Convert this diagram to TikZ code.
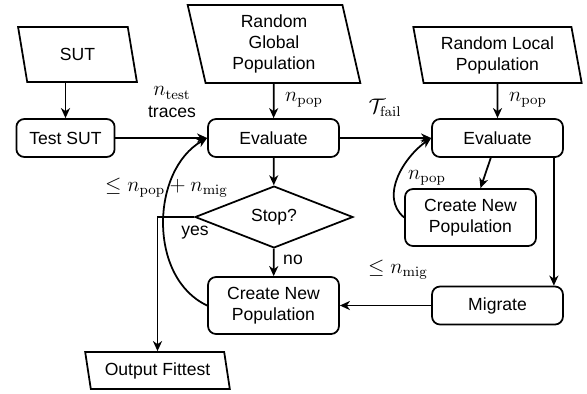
\documentclass[tikz,border=0pt]{standalone}
\usepackage[no-math]{fontspec}
\setmainfont{Liberation Sans}
\usetikzlibrary{shapes.geometric, arrows.meta}
\tikzset{
  box/.style={rectangle, rounded corners=1.6mm, draw, line width=1pt, minimum height=0.76cm, inner xsep=0.26cm},
  wide/.style={minimum width=2.62cm},
  tall/.style={minimum height=1.14cm, align=center},
  io/.style={trapezium, trapezium left angle=100, trapezium right angle=80, trapezium stretches=true, draw, line width=1pt, align=center},
  decision/.style={diamond, draw, line width=1pt, minimum width=3.16cm, minimum height=1.08cm, inner sep=0pt},
  mathlbl/.style={font=\large},
}
\begin{document}
\begin{tikzpicture}[x=0.02cm, y=0.02cm, >={Stealth[length=2mm, width=1.8mm, inset=0.6mm]}]
      \useasboundingbox (0,0) rectangle (587,-393);
      \node[io, minimum width=2.38cm, minimum height=1.1cm] (sut) at (77.5,-54.5) {SUT};
      \node[io, minimum width=3.48cm, minimum height=1.56cm] (rgp) at (274,-44) {Random\\Global\\Population};
      \node[io, minimum width=3.38cm, minimum height=1.12cm] (rlp) at (497.5,-55) {Random Local\\Population};
      \node[box] (test) at (65.5,-138) {Test SUT};
      \node[box, wide] (eval) at (273.5,-138) {Evaluate};
      \node[box, wide] (evallocal) at (497.5,-138) {Evaluate};
      \node[decision] (stop) at (274,-217) {Stop?};
      \node[box, wide, tall] (create) at (273.5,-305.5) {Create New\\Population};
      \node[box, wide, tall] (createlocal) at (470.5,-217.5) {Create New\\Population};
      \node[box, wide] (migrate) at (497.5,-305.5) {Migrate};
      \node[io, minimum width=2.9cm, minimum height=0.74cm] (out) at (157.5,-370.5) {Output Fittest};
      \node[mathlbl] (ntest) at (172,-93) {$n_\mathrm{test}$};
      \node (traces) at (172,-112) {traces};
      \node[mathlbl] (npop) at (304,-100) {$n_\mathrm{pop}$};
      \node[mathlbl] (npoplocal) at (528,-100) {$n_\mathrm{pop}$};
      \node[mathlbl] (tfail) at (385,-108) {$\mathcal{T}_\mathrm{fail}$};
      \node[mathlbl] (nall) at (166.5,-188) {$\leq n_\mathrm{pop} + n_\mathrm{mig}$};
      \node[mathlbl] (nloop) at (427,-178) {$n_\mathrm{pop}$};
      \node (yes) at (195,-233) {yes};
      \node (no) at (293,-260) {no};
      \node[mathlbl] (nmig) at (398,-270) {$\leq n_\mathrm{mig}$};
      \begin{scope}[->, line width=1pt]
        \draw (sut.south -| test.north) -- (test.north);
        \draw (rgp) -- (eval);
        \draw (rlp) -- (evallocal);
        \draw (test) -- (eval);
        \draw (eval) -- (evallocal);
        \draw (eval) -- (stop);
        \draw (stop) -- (create);
        \draw (stop.west) -| (out.north);
        \draw (evallocal) -- (createlocal);
        \draw ([xshift=-0.2cm]evallocal.south east) -- ([xshift=-0.2cm]migrate.north east);
        \draw (migrate) -- (create);
        \draw (create.west) to[out=155, in=210] (eval.west);
        \draw (createlocal.west) to[out=140, in=215] (evallocal.west);
      \end{scope}
    \end{tikzpicture}
\end{document}
